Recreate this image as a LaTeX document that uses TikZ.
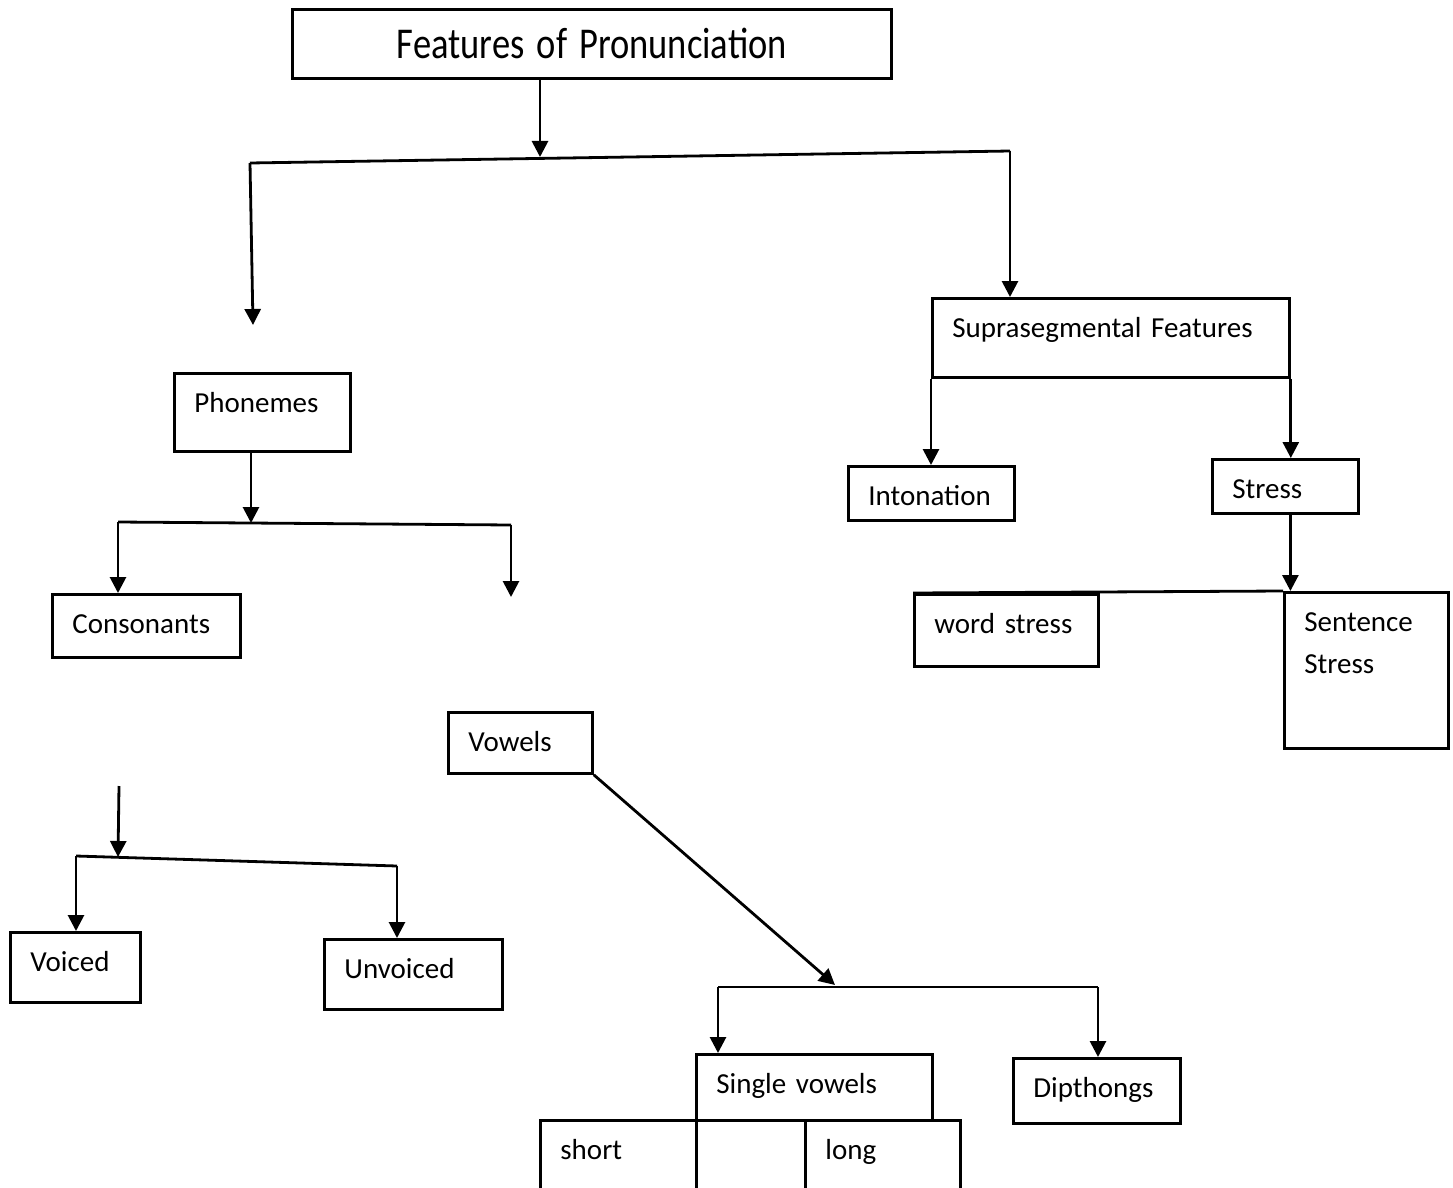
\documentclass[tikz,border=0pt]{standalone}
\usepackage{fontspec}
\usepackage{graphicx}
\setmainfont{Carlito}
\usetikzlibrary{arrows.meta}

\tikzset{
  box/.style={draw, line width=2.8pt, anchor=north west, inner xsep=20pt, inner ysep=0pt,
    align=left, text height=39pt, font=\fontsize{29}{42}\selectfont},
  arr/.style={line width=2.8pt, -{Triangle[length=16pt,width=16pt]}},
  bar/.style={line width=2.8pt},
}

\begin{document}
\begin{tikzpicture}[x=1pt, y=-1pt]
    \useasboundingbox (0,0) rectangle (1453,1188);
    \clip (0,0) rectangle (1453,1188);

    % Draw boxes
    \node[box, text width=559pt, align=center, text height=49pt, text depth=20pt,
      font=\fontsize{44}{50}\selectfont] (title) at (291,8) {\scalebox{0.83}[1]{Features of Pronunciation}};
    \node[box, text width=317pt, text depth=40pt] (supra) at (931,297) {Suprasegmental Features};
    \node[box, text width=126pt, text depth=15pt] (inton) at (847,465) {Intonation};
    \node[box, text width=106pt, text depth=15pt] (stress) at (1211,458) {Stress};
    \node[box, text width=144pt, text depth=33pt] (word) at (913,593) {word stress};
    \node[box, text width=124pt, text depth=117pt] (sent) at (1283,591) {Sentence\\Stress};
    \node[box, text width=136pt, text depth=39pt] (phon) at (173,372) {Phonemes};
    \node[box, text width=148pt, text depth=24pt] (cons) at (51,593) {Consonants};
    \node[box, text width=104pt, text depth=22pt] (vow) at (447,711) {Vowels};
    \node[box, text width=90pt, text depth=31pt] (voiced) at (9,931) {Voiced};
    \node[box, text width=138pt, text depth=31pt] (unvoiced) at (323,938) {Unvoiced};
    \node[box, text width=196pt, text depth=27pt] (single) at (695,1053) {Single vowels};
    \node[box, text width=127pt, text depth=26pt] (dip) at (1012,1057) {Dipthongs};
    \node[box, text width=116pt, text depth=60pt] (short) at (539,1119) {short};
    \node[box, text width=69pt, text depth=60pt] (mid) at (695,1119) {};
    \node[box, text width=115pt, text depth=60pt] (long) at (804,1119) {long};

    % Top level split
    \coordinate (topJ) at (540,157);
    \coordinate (topL) at (250,163);
    \coordinate (topR) at (1010,151);
    \coordinate (phonTip) at (253,325);
    \draw[arr] (title.south -| topJ) -- (topJ);
    \draw[bar] (topL) -- (topR);
    \draw[arr] (topL) -- (phonTip);
    \draw[arr] (topR) -- (topR |- supra.north);

    % Suprasegmental branch
    \draw[arr] (supra.south west) -- (supra.south west |- inton.north);
    \draw[arr] (supra.south east) -- (supra.south east |- stress.north);
    \draw[arr] ([xshift=5pt]stress.south) -- ([xshift=5pt]stress.south |- sent.north);
    \draw[bar] (word.north west) -- (sent.north west);

    % Phonemes branch
    \coordinate (phonJ) at (251,523);
    \coordinate (phonL) at (118,522);
    \coordinate (phonR) at (511,525);
    \coordinate (vowTip) at (511,597);
    \draw[arr] (phon.south -| phonJ) -- (phonJ);
    \draw[bar] (phonL) -- (phonR);
    \draw[arr] (phonL) -- (phonL |- cons.north);
    \draw[arr] (phonR) -- (vowTip);

    % Consonants branch
    \coordinate (consTop) at (119,786);
    \coordinate (consJ) at (118,857);
    \coordinate (consL) at (76,856);
    \coordinate (consR) at (397,866);
    \draw[arr] (consTop) -- (consJ);
    \draw[bar] (consL) -- (consR);
    \draw[arr] (consL) -- (consL |- voiced.north);
    \draw[arr] (consR) -- (consR |- unvoiced.north);

    % Vowels branch
    \coordinate (vowJ) at (835,985);
    \coordinate (vowL) at (718,987);
    \coordinate (vowR) at (1098,987);
    \draw[arr] (vow.south east) -- (vowJ);
    \draw[bar] (vowL) -- (vowR);
    \draw[arr] (vowL) -- (vowL |- single.north);
    \draw[arr] (vowR) -- (vowR |- dip.north);

\end{tikzpicture}
\end{document}
